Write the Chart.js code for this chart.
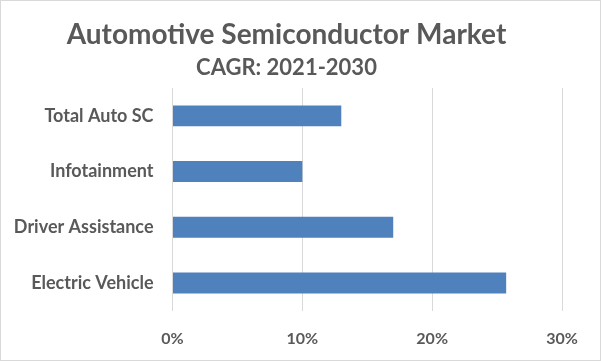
<!DOCTYPE html>
<html>
<head>
<meta charset="utf-8">
<script src="https://cdn.jsdelivr.net/npm/chart.js@4"></script>
<style>
  html, body { margin: 0; padding: 0; background: #fff; }
  #wrap { width: 601px; height: 361px; box-sizing: border-box; border: 1px solid #d9d9d9; }
</style>
</head>
<body>
<div id="wrap"><canvas id="cagrChart" width="599" height="359"></canvas></div>
<script>
// Datos del grafico
const categories = ['Total Auto SC', 'Infotainment', 'Driver Assistance', 'Electric Vehicle'];
const cagrValues = [13, 10, 17, 25.7];
const tickValues = [0, 10, 20, 30];

document.addEventListener('DOMContentLoaded', function() {
    const ctx = document.getElementById('cagrChart').getContext('2d');
    const gray = '#595959';
    const fontFamily = 'Lato, "Open Sans", sans-serif';

    new Chart(ctx, {
        type: 'bar',
        data: {
            labels: categories,
            datasets: [{
                data: cagrValues,
                backgroundColor: '#4F81BD',
                barPercentage: 0.75,
                categoryPercentage: 0.5
            }]
        },
        options: {
            indexAxis: 'y',
            responsive: false,
            animation: false,
            layout: {
                padding: { left: 10, right: 38, top: 0, bottom: -6 }
            },
            plugins: {
                legend: { display: false },
                tooltip: { enabled: false },
                title: {
                    display: true,
                    text: 'Automotive Semiconductor Market',
                    color: gray,
                    font: { family: fontFamily, size: 28, weight: 'bold' },
                    padding: { top: 17, bottom: 3 }
                },
                subtitle: {
                    display: true,
                    text: 'CAGR: 2021-2030',
                    color: gray,
                    font: { family: fontFamily, size: 22, weight: 'bold' },
                    padding: { top: 0, bottom: 7 }
                }
            },
            scales: {
                x: {
                    min: tickValues[0],
                    max: tickValues[tickValues.length - 1],
                    afterBuildTicks: function(scale) {
                        scale.ticks = tickValues.map(v => ({ value: v }));
                    },
                    ticks: {
                        color: gray,
                        font: { family: fontFamily, size: 16, weight: 'bold' },
                        padding: 18,
                        callback: v => v + '%'
                    },
                    grid: {
                        color: '#d9d9d9',
                        drawTicks: false
                    },
                    border: { display: false }
                },
                y: {
                    afterFit: function(scale) {
                        scale.width = 161.5;
                    },
                    ticks: {
                        color: gray,
                        font: { family: fontFamily, size: 18, weight: 'bold' },
                        padding: 19
                    },
                    grid: { display: false, drawTicks: false },
                    border: { display: false }
                }
            }
        }
    });
});
</script>
</body>
</html>
